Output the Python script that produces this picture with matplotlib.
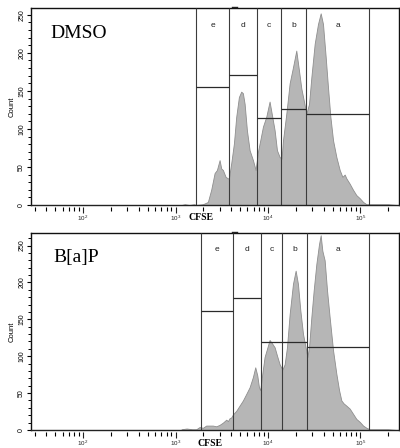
import numpy as np
import matplotlib
matplotlib.use('Agg')
import matplotlib.pyplot as plt
from matplotlib.ticker import FixedLocator, FixedFormatter, LogLocator, MultipleLocator, NullFormatter

plt.rcParams['mathtext.fontset'] = 'custom'
plt.rcParams['mathtext.rm'] = 'Liberation Sans'
plt.rcParams['mathtext.it'] = 'Liberation Sans'

# ---------------- data ----------------
panel_names = ['DMSO', 'B[a]P']
gate_names = ['e', 'd', 'c', 'b', 'a']

# log10(CFSE) positions and counts of the histogram outline
dmso_log = [3.065, 3.10, 3.15, 3.20, 3.224, 3.296, 3.350, 3.386, 3.423, 3.448, 3.477, 3.495, 3.513, 3.542,
            3.567, 3.578, 3.603, 3.632, 3.657, 3.686, 3.711, 3.729, 3.748, 3.773, 3.802, 3.838, 3.867, 3.892,
            3.917, 3.946, 3.982, 4.018, 4.047, 4.073, 4.098, 4.127, 4.148, 4.163, 4.199, 4.235, 4.271, 4.307,
            4.336, 4.362, 4.387, 4.416, 4.445, 4.470, 4.506, 4.542, 4.571, 4.596, 4.625, 4.650, 4.676, 4.705,
            4.741, 4.777, 4.806, 4.831, 4.849, 4.885, 4.921, 4.957, 4.993, 5.030, 5.066, 5.102, 5.20, 5.30, 5.40]
dmso_counts = [0, 1, 0, 1, 0, 1, 4, 20, 42, 46, 59, 48, 46, 37,
               35, 35, 55, 81, 116, 142, 149, 147, 133, 98, 72, 59, 46, 70,
               85, 103, 116, 136, 116, 98, 72, 63, 61, 85, 120, 160, 181, 203,
               177, 153, 138, 120, 133, 168, 212, 238, 252, 238, 195, 155, 116, 85,
               63, 46, 37, 40, 35, 28, 20, 13, 9, 4, 1, 1, 1, 1, 0]

bap_log = [3.065, 3.12, 3.18, 3.224, 3.260, 3.296, 3.332, 3.368, 3.404, 3.441,
           3.477, 3.513, 3.549, 3.567, 3.585, 3.603, 3.621, 3.657, 3.693, 3.729,
           3.766, 3.802, 3.838, 3.863, 3.885, 3.903, 3.917, 3.939, 3.964, 3.990,
           4.018, 4.047, 4.073, 4.098, 4.127, 4.156, 4.181, 4.206, 4.235, 4.271,
           4.300, 4.325, 4.351, 4.380, 4.408, 4.427, 4.445, 4.470, 4.495, 4.524,
           4.553, 4.571, 4.589, 4.614, 4.640, 4.668, 4.705, 4.741, 4.770, 4.795,
           4.820, 4.849, 4.885, 4.921, 4.957, 4.994, 5.030, 5.066, 5.102, 5.20,
           5.30, 5.40]
bap_counts = [1, 2, 1, 1, 4, 3, 6, 6, 6, 5,
              7, 10, 14, 12, 16, 17, 21, 26, 33, 40,
              49, 58, 72, 85, 74, 58, 54, 76, 99, 110,
              122, 117, 112, 101, 89, 82, 89, 112, 157, 198,
              216, 198, 162, 130, 112, 99, 112, 153, 189, 225,
              252, 264, 243, 230, 189, 153, 108, 76, 54, 40,
              36, 33, 29, 22, 15, 11, 6, 3, 1, 1,
              1, 0]

# gate boundaries (CFSE) and gate marker levels (count), ordered e, d, c, b, a
dmso_gate_edges = [1676, 3777, 7606, 13970, 26070, 123000]
dmso_gate_levels = [155, 171, 115, 126, 120]
bap_gate_edges = [1897, 4220, 8470, 14330, 26480, 123000]
bap_gate_levels = [161, 179, 119, 119, 112]

x_tick_values = [1e2, 1e3, 1e4, 1e5]
x_tick_labels = ['$10^2$', '$10^3$', '$10^4$', '$10^5$']
y_tick_values = [0, 50, 100, 150, 200, 250]
y_tick_labels = ['0', '50', '100', '150', '200', '250']

# ---------------- figure ----------------
W, H = 400, 448
fig = plt.figure(figsize=(W / 100, H / 100), dpi=100)

panels = [
    dict(name=panel_names[0], logx=dmso_log, counts=dmso_counts, edges=dmso_gate_edges,
         levels=dmso_gate_levels, top=8, bottom=205, ymax=259, letter_y=236,
         cfse=(201, 218), name_pos=(0.052, 0.873), dash_y=6.7),
    dict(name=panel_names[1], logx=bap_log, counts=bap_counts, edges=bap_gate_edges,
         levels=bap_gate_levels, top=233, bottom=430, ymax=267, letter_y=244,
         cfse=(210, 443), name_pos=(0.060, 0.877), dash_y=231.8),
]

left_px, right_px = 31, 399
for p in panels:
    ax = fig.add_axes([left_px / W, 1 - p['bottom'] / H, (right_px - left_px) / W,
                       (p['bottom'] - p['top']) / H])
    ax.set_xscale('log')
    ax.set_xlim(27.3, 262144)
    ax.set_ylim(0, p['ymax'])

    xs = 10 ** np.array(p['logx'])
    ax.fill_between(xs, p['counts'], 0, facecolor='#b6b6b6', edgecolor='#8e8e8e',
                    linewidth=0.6, zorder=2)

    edges = p['edges']
    ax.vlines(edges, 0, p['ymax'], colors='#3c3c3c', linewidth=0.8, zorder=3)
    for i, g in enumerate(gate_names):
        ax.hlines(p['levels'][i], edges[i], edges[i + 1], colors='#2a2a2a',
                  linewidth=0.9, zorder=3)
        ax.text(np.sqrt(edges[i] * edges[i + 1]), p['letter_y'], g, ha='center', va='center',
                fontsize=6, family='Liberation Sans', color='#222222', zorder=4)

    ax.text(p['name_pos'][0], p['name_pos'][1], p['name'], transform=ax.transAxes,
            fontsize=14, family='Liberation Serif', ha='left', va='center')

    # small marker above gate d
    fig.lines.append(plt.Line2D([231.5 / W, 237 / W], [1 - p['dash_y'] / H] * 2,
                                transform=fig.transFigure, color='#222222', lw=1.0))

    # ticks
    ax.xaxis.set_major_locator(FixedLocator(x_tick_values))
    ax.xaxis.set_major_formatter(FixedFormatter(x_tick_labels))
    ax.xaxis.set_minor_locator(LogLocator(base=10, subs=[2, 3, 4, 5, 6, 7, 8, 9], numticks=20))
    ax.xaxis.set_minor_formatter(NullFormatter())
    ax.yaxis.set_major_locator(FixedLocator(y_tick_values))
    ax.yaxis.set_major_formatter(FixedFormatter(y_tick_labels))
    ax.yaxis.set_minor_locator(MultipleLocator(10))

    ax.tick_params(axis='x', which='major', direction='out', length=4.5, width=0.8,
                   labelsize=4.5, pad=0.3, colors='#222222')
    ax.tick_params(axis='x', which='minor', direction='out', length=3, width=0.8)
    ax.tick_params(axis='y', which='major', direction='out', length=3, width=0.8,
                   labelsize=5, pad=1.2)
    ax.tick_params(axis='y', which='minor', direction='out', length=2, width=0.7)
    for lbl in ax.get_yticklabels():
        lbl.set_rotation(90)
        lbl.set_va('center')
        lbl.set_family('Liberation Sans')
    for sp in ['top', 'right', 'left']:
        ax.spines[sp].set_linewidth(1.0)
        ax.spines[sp].set_color('#111111')
    ax.spines['bottom'].set_position(('outward', 1.2))
    ax.spines['bottom'].set_color('none')
    ax.axhline(0, color='#222222', lw=1.0, clip_on=False, zorder=5)

    fig.text(12 / W, 1 - (p['top'] + p['bottom']) / 2 / H, 'Count', rotation=90,
             ha='center', va='center', fontsize=5.5, family='Liberation Sans')
    fig.text(p['cfse'][0] / W, 1 - p['cfse'][1] / H, 'CFSE', ha='center', va='center',
             fontsize=7, family='Liberation Serif', weight='bold')

fig.savefig('out.png', dpi=100)
